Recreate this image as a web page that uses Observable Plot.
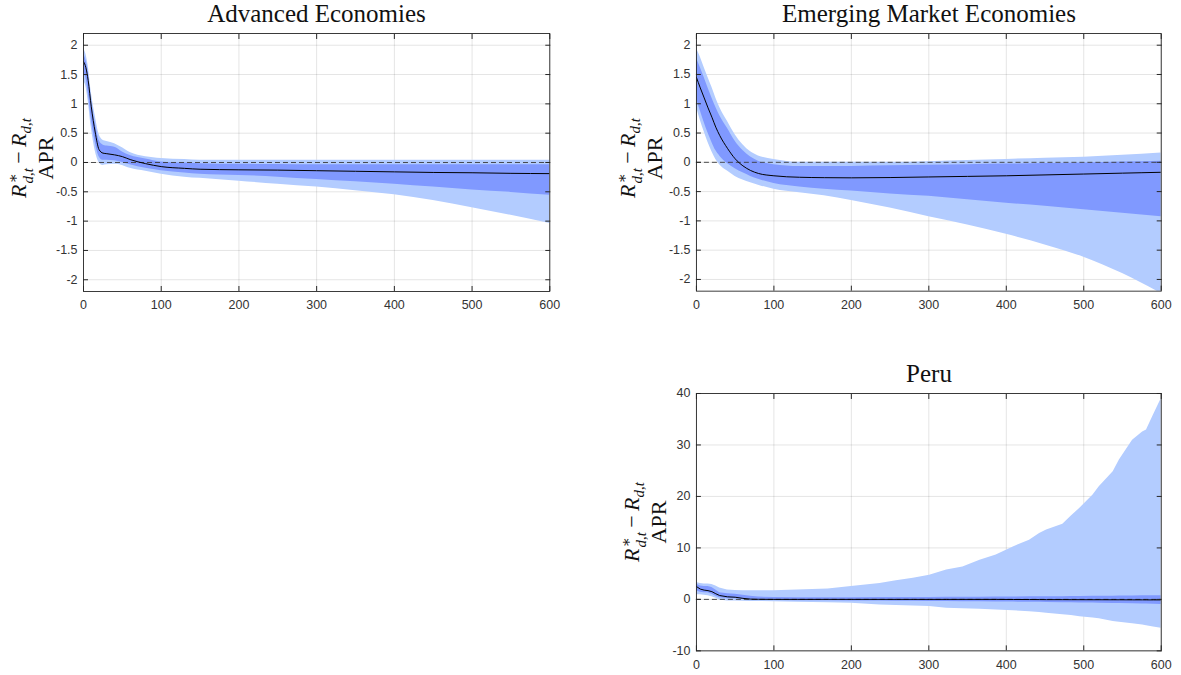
<!DOCTYPE html>
<html>
<head>
<meta charset="utf-8">
<script src="https://cdn.jsdelivr.net/npm/d3@7"></script>
<script src="https://cdn.jsdelivr.net/npm/@observablehq/plot@0.6"></script>
<style>
  html, body { margin: 0; padding: 0; background: #fff; overflow: hidden; }
  #root { position: relative; width: 1181px; height: 675px; background: #fff; }
  .title { position: absolute; width: 600px; text-align: center; font-family: "Liberation Serif", "DejaVu Serif", serif; font-size: 25px; line-height: 25px; color: #111; white-space: nowrap; }
  .ylab { position: absolute; transform: translate(-50%, -50%) rotate(-90deg); font-family: "Liberation Serif", "DejaVu Serif", serif; font-size: 22px; line-height: 19px; color: #111; text-align: center; white-space: nowrap; }
  .ylab .ss { display: inline-block; font-size: 0.68em; line-height: 1; vertical-align: -0.45em; text-align: left; margin-left: 1px; }
  .ylab .ss span { display: block; }
  .ylab sub { font-size: 0.68em; vertical-align: -0.35em; line-height: 0; }
  .panel { position: absolute; }
  .panel svg text { font-size: 12.5px !important; font-family: "Liberation Sans", Arial, Helvetica, sans-serif !important; }
</style>
</head>
<body>
<div id="root"></div>
<script>
// ---------- data ----------
const xTicks = [0, 100, 200, 300, 400, 500, 600];
const yTicksTop = [-2, -1.5, -1, -0.5, 0, 0.5, 1, 1.5, 2];
const yTicksPeru = [-10, 0, 10, 20, 30, 40];

// Advanced Economies
const advT    = [0, 3, 6, 10, 15, 20, 25, 30, 40, 50, 60, 80, 100, 130, 150, 200, 250, 300, 350, 400, 450, 500, 550, 600];
const advLo90 = [1.38, 1.30, 1.05, 0.60, 0.20, 0.00, -0.05, -0.04, -0.03, -0.05, -0.10, -0.15, -0.20, -0.25, -0.27, -0.32, -0.37, -0.42, -0.48, -0.55, -0.65, -0.77, -0.90, -1.04];
const advLo68 = [1.52, 1.45, 1.20, 0.75, 0.35, 0.10, 0.04, 0.04, 0.03, 0.00, -0.04, -0.10, -0.14, -0.18, -0.20, -0.22, -0.25, -0.29, -0.33, -0.37, -0.42, -0.47, -0.51, -0.56];
const advMed  = [1.72, 1.62, 1.40, 0.95, 0.52, 0.22, 0.16, 0.15, 0.13, 0.10, 0.05, -0.02, -0.07, -0.10, -0.115, -0.125, -0.13, -0.14, -0.15, -0.16, -0.17, -0.175, -0.185, -0.19];
const advHi68 = [1.85, 1.75, 1.55, 1.10, 0.68, 0.38, 0.30, 0.28, 0.26, 0.18, 0.12, 0.06, 0.01, -0.01, -0.02, -0.03, -0.035, -0.04, -0.04, -0.04, -0.04, -0.04, -0.04, -0.04];
const advHi90 = [1.95, 1.85, 1.65, 1.20, 0.80, 0.48, 0.38, 0.36, 0.32, 0.25, 0.17, 0.10, 0.07, 0.05, 0.04, 0.04, 0.04, 0.04, 0.04, 0.04, 0.04, 0.04, 0.04, 0.04];

// Emerging Market Economies
const emeT    = [0, 5, 10, 15, 20, 25, 30, 40, 50, 60, 70, 80, 100, 133, 165, 200, 250, 300, 350, 400, 450, 500, 550, 600];
const emeLo90 = [0.95, 0.72, 0.52, 0.34, 0.18, 0.05, -0.04, -0.15, -0.24, -0.30, -0.35, -0.39, -0.46, -0.52, -0.57, -0.65, -0.78, -0.93, -1.07, -1.23, -1.41, -1.62, -1.90, -2.24];
const emeLo68 = [1.08, 0.88, 0.68, 0.50, 0.34, 0.20, 0.11, -0.02, -0.11, -0.18, -0.24, -0.29, -0.36, -0.42, -0.46, -0.49, -0.54, -0.58, -0.64, -0.70, -0.75, -0.81, -0.87, -0.93];
const emeMed  = [1.45, 1.27, 1.10, 0.93, 0.77, 0.60, 0.46, 0.24, 0.06, -0.06, -0.14, -0.19, -0.23, -0.255, -0.262, -0.265, -0.26, -0.25, -0.24, -0.23, -0.215, -0.20, -0.185, -0.17];
const emeHi68 = [1.78, 1.62, 1.45, 1.27, 1.10, 0.94, 0.80, 0.58, 0.36, 0.20, 0.09, 0.02, -0.04, -0.07, -0.07, -0.07, -0.06, -0.05, -0.04, -0.03, -0.02, -0.01, 0.005, 0.02];
const emeHi90 = [1.95, 1.80, 1.62, 1.45, 1.28, 1.10, 0.94, 0.70, 0.47, 0.30, 0.18, 0.11, 0.05, 0.00, 0.00, 0.00, 0.00, 0.01, 0.03, 0.05, 0.07, 0.085, 0.12, 0.16];

// Peru
const peruT    = [0, 5, 10, 15, 20, 25, 30, 40, 50, 60, 70, 80, 100, 130, 170, 200, 237, 258, 280, 301, 323, 344, 366, 387, 409, 430, 443, 452, 473, 484, 495, 512, 520, 538, 546, 563, 576, 581, 590, 600];
const peruLo90 = [0.9, 0.9, 0.8, 0.7, 0.5, 0.2, -0.1, -0.3, -0.3, -0.35, -0.4, -0.4, -0.45, -0.55, -0.65, -0.75, -1.1, -1.2, -1.3, -1.4, -1.7, -1.8, -1.9, -2.05, -2.2, -2.4, -2.55, -2.7, -3.0, -3.15, -3.35, -3.6, -3.75, -4.3, -4.45, -4.75, -5.0, -5.1, -5.35, -5.6];
const peruLo68 = [1.7, 1.4, 1.3, 1.3, 1.0, 0.6, 0.3, 0.1, 0.1, 0.0, -0.1, -0.15, -0.2, -0.25, -0.28, -0.3, -0.33, -0.35, -0.38, -0.4, -0.43, -0.45, -0.48, -0.5, -0.53, -0.56, -0.58, -0.6, -0.63, -0.65, -0.68, -0.72, -0.74, -0.78, -0.8, -0.85, -0.88, -0.9, -0.95, -1.0];
const peruMed  = [2.5, 2.0, 1.8, 1.7, 1.5, 1.1, 0.75, 0.5, 0.42, 0.2, 0.05, 0.02, 0.0, 0.0, 0.0, 0.0, 0.0, 0.0, 0.0, 0.0, 0.0, 0.0, 0.0, 0.0, -0.02, -0.03, -0.04, -0.05, -0.05, -0.06, -0.06, -0.07, -0.07, -0.08, -0.08, -0.09, -0.09, -0.1, -0.1, -0.1];
const peruHi68 = [3.0, 2.6, 2.5, 2.5, 2.3, 1.8, 1.3, 1.1, 1.0, 0.8, 0.6, 0.45, 0.35, 0.3, 0.3, 0.3, 0.35, 0.35, 0.35, 0.35, 0.4, 0.4, 0.4, 0.45, 0.45, 0.5, 0.5, 0.5, 0.5, 0.55, 0.55, 0.6, 0.6, 0.6, 0.65, 0.65, 0.7, 0.7, 0.7, 0.7];
const peruHi90 = [3.3, 3.1, 3.0, 3.0, 2.9, 2.6, 2.2, 1.8, 1.75, 1.7, 1.7, 1.7, 1.7, 1.8, 2.0, 2.5, 3.1, 3.6, 4.1, 4.7, 5.7, 6.3, 7.6, 8.6, 10.2, 11.5, 12.8, 13.5, 14.6, 16.2, 17.7, 20.3, 21.9, 24.8, 27.1, 30.9, 32.5, 32.9, 35.8, 39.0];

const titles = ["Advanced Economies", "Emerging Market Economies", "Peru"];

// ---------- styles ----------
const lightBlue = "#b3ccff";
const darkBlue = "#8099ff";
const axisColor = "#262626";

function rows(t, lo90, lo68, med, hi68, hi90) {
  return t.map((v, i) => ({t: v, lo90: lo90[i], lo68: lo68[i], med: med[i], hi68: hi68[i], hi90: hi90[i]}));
}

const root = document.getElementById("root");
const fmt = d => String(d);

function panel({data, yDomain, yTicks, left, top, w, h, curve}) {
  const mL = 60, mT = 8, mR = 20, mB = 24;
  const blank = () => "";
  const svg = Plot.plot({
    width: w + mL + mR, height: h + mT + mB,
    marginLeft: mL, marginRight: mR, marginTop: mT, marginBottom: mB,
    style: {fontFamily: "'Liberation Sans', Arial, Helvetica, sans-serif", fontSize: "12.5px", color: "#333", background: "transparent", overflow: "visible"},
    x: {domain: [0, 600]},
    y: {domain: yDomain},
    marks: [
      Plot.gridX(xTicks, {stroke: "#000", strokeOpacity: 0.11}),
      Plot.gridY(yTicks, {stroke: "#000", strokeOpacity: 0.11}),
      Plot.areaY(data, {x: "t", y1: "lo90", y2: "hi90", fill: lightBlue, curve, clip: true}),
      Plot.areaY(data, {x: "t", y1: "lo68", y2: "hi68", fill: darkBlue, curve, clip: true}),
      Plot.ruleY([0], {stroke: "#3a3a3a", strokeWidth: 0.9, strokeDasharray: "5,3"}),
      Plot.lineY(data, {x: "t", y: "med", stroke: "#000", strokeWidth: 1, curve, clip: true}),
      Plot.frame({stroke: axisColor, strokeWidth: 0.9}),
      // inward tick marks on all four sides
      Plot.axisX(xTicks, {anchor: "bottom", tickSize: 5, dy: -5, tickFormat: blank, label: null, stroke: axisColor}),
      Plot.axisX(xTicks, {anchor: "top", tickSize: 5, dy: 5, tickFormat: blank, label: null, stroke: axisColor}),
      Plot.axisY(yTicks, {anchor: "left", tickSize: 5, dx: 5, tickFormat: blank, label: null, stroke: axisColor}),
      Plot.axisY(yTicks, {anchor: "right", tickSize: 5, dx: -5, tickFormat: blank, label: null, stroke: axisColor}),
      // tick labels
      Plot.axisX(xTicks, {anchor: "bottom", tickSize: 0, tickPadding: 9, tickFormat: fmt, label: null, fill: "#333", fontSize: 12.5}),
      Plot.axisY(yTicks, {anchor: "left", tickSize: 0, tickPadding: 6, tickFormat: fmt, label: null, fill: "#333", fontSize: 12.5})
    ]
  });
  const div = document.createElement("div");
  div.className = "panel";
  div.style.left = (left - mL) + "px";
  div.style.top = (top - mT) + "px";
  div.appendChild(svg);
  root.appendChild(div);
}

function title(text, cx, top) {
  const d = document.createElement("div");
  d.className = "title";
  d.textContent = text;
  d.style.left = (cx - 300) + "px";
  d.style.top = top + "px";
  root.appendChild(d);
}

function ylabel(cx, cy) {
  const d = document.createElement("div");
  d.className = "ylab";
  d.innerHTML = '<div><i>R</i><span class="ss"><span>∗</span><span><i>d</i>,<i>t</i></span></span>&#8201;−&#8201;<i>R</i><sub><i>d</i>,<i>t</i></sub></div><div>APR</div>';
  d.style.left = cx + "px";
  d.style.top = cy + "px";
  root.appendChild(d);
}

const smooth = "monotone-x";
panel({data: rows(advT, advLo90, advLo68, advMed, advHi68, advHi90), yDomain: [-2.2, 2.2], yTicks: yTicksTop, left: 83.3, top: 33, w: 466.3, h: 258, curve: smooth});
panel({data: rows(emeT, emeLo90, emeLo68, emeMed, emeHi68, emeHi90), yDomain: [-2.2, 2.2], yTicks: yTicksTop, left: 696.3, top: 33, w: 465.4, h: 258, curve: smooth});
panel({data: rows(peruT, peruLo90, peruLo68, peruMed, peruHi68, peruHi90), yDomain: [-10, 40], yTicks: yTicksPeru, left: 696.3, top: 393.3, w: 465.4, h: 257.7, curve: "linear"});

title(titles[0], 316.5, 1);
title(titles[1], 929, 1);
title(titles[2], 929, 361);

ylabel(30, 158);
ylabel(639, 158);
ylabel(643, 522);
</script>
</body>
</html>
